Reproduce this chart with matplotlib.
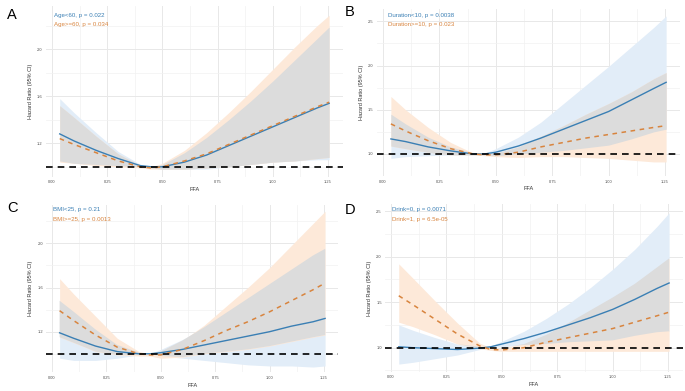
import matplotlib
matplotlib.use("Agg")
import matplotlib.pyplot as plt
import numpy as np

plt.rcParams["font.family"] = ["Liberation Sans", "DejaVu Sans"]

W, H = 685, 391

# FFA grid used for all curves
ffa = [0.035, 0.1, 0.2, 0.3, 0.4, 0.45, 0.5, 0.6, 0.7, 0.8, 0.9, 1.0, 1.1, 1.2, 1.255]

# ---- A : age
age_lo_est = [1.28, 1.22, 1.14, 1.07, 1.01, 1.0, 1.0, 1.04, 1.10, 1.18, 1.26, 1.34, 1.42, 1.50, 1.54]
age_lo_upp = [1.58, 1.46, 1.29, 1.13, 1.02, 1.0, 1.02, 1.12, 1.25, 1.40, 1.56, 1.73, 1.91, 2.09, 2.19]
age_lo_low = [1.05, 1.03, 1.02, 1.01, 1.0, 0.99, 0.98, 0.98, 0.98, 1.0, 1.02, 1.04, 1.05, 1.06, 1.06]
age_hi_est = [1.24, 1.19, 1.12, 1.05, 1.0, 0.99, 1.0, 1.05, 1.11, 1.19, 1.27, 1.35, 1.43, 1.51, 1.55]
age_hi_upp = [1.52, 1.42, 1.26, 1.11, 1.01, 1.0, 1.03, 1.14, 1.29, 1.46, 1.64, 1.83, 2.02, 2.20, 2.29]
age_hi_low = [1.04, 1.03, 1.01, 1.0, 0.99, 0.98, 0.98, 0.98, 0.99, 1.0, 1.02, 1.04, 1.05, 1.07, 1.08]

# ---- B : diabetes duration
dur_lo_est = [1.17, 1.14, 1.08, 1.035, 1.0, 1.0, 1.02, 1.09, 1.18, 1.28, 1.38, 1.48, 1.61, 1.74, 1.81]
dur_lo_upp = [1.45, 1.34, 1.19, 1.08, 1.01, 1.01, 1.06, 1.19, 1.36, 1.57, 1.78, 1.99, 2.21, 2.43, 2.56]
dur_lo_low = [0.95, 0.97, 0.98, 0.99, 0.99, 0.99, 0.98, 1.0, 1.02, 1.04, 1.07, 1.10, 1.17, 1.25, 1.28]
dur_hi_est = [1.34, 1.26, 1.15, 1.06, 1.0, 0.99, 0.99, 1.02, 1.08, 1.13, 1.18, 1.22, 1.26, 1.30, 1.32]
dur_hi_upp = [1.65, 1.50, 1.30, 1.13, 1.01, 1.0, 1.01, 1.08, 1.20, 1.32, 1.45, 1.57, 1.70, 1.85, 1.92]
dur_hi_low = [1.09, 1.06, 1.02, 0.99, 0.99, 0.98, 0.97, 0.96, 0.97, 0.97, 0.96, 0.95, 0.93, 0.91, 0.91]

# ---- C : BMI
bmi_lo_est = [1.19, 1.14, 1.07, 1.02, 1.0, 1.0, 1.01, 1.04, 1.08, 1.12, 1.16, 1.20, 1.25, 1.29, 1.32]
bmi_lo_upp = [1.48, 1.38, 1.22, 1.08, 1.01, 1.0, 1.04, 1.13, 1.24, 1.37, 1.50, 1.63, 1.76, 1.89, 1.95]
bmi_lo_low = [0.96, 0.94, 0.94, 0.96, 0.99, 1.0, 0.98, 0.96, 0.94, 0.92, 0.90, 0.89, 0.89, 0.88, 0.89]
bmi_hi_est = [1.39, 1.30, 1.17, 1.06, 1.0, 0.99, 0.99, 1.04, 1.12, 1.21, 1.29, 1.38, 1.48, 1.58, 1.64]
bmi_hi_upp = [1.68, 1.54, 1.34, 1.14, 1.02, 1.0, 1.02, 1.12, 1.26, 1.43, 1.60, 1.78, 1.98, 2.18, 2.29]
bmi_hi_low = [1.15, 1.10, 1.02, 0.99, 0.98, 0.98, 0.96, 0.97, 1.0, 1.02, 1.04, 1.07, 1.11, 1.15, 1.17]

# ---- D : drinking
dr0_est = [1.01, 1.0, 0.99, 0.98, 0.995, 1.01, 1.04, 1.10, 1.17, 1.25, 1.33, 1.42, 1.53, 1.65, 1.71]
dr0_upp = [1.25, 1.19, 1.11, 1.04, 1.01, 1.02, 1.07, 1.18, 1.32, 1.48, 1.66, 1.86, 2.08, 2.33, 2.48]
dr0_low = [0.82, 0.84, 0.88, 0.92, 0.98, 1.0, 1.01, 1.03, 1.04, 1.06, 1.07, 1.08, 1.13, 1.17, 1.18]
dr1_est = [1.57, 1.47, 1.31, 1.15, 1.02, 0.98, 0.975, 1.0, 1.06, 1.11, 1.16, 1.21, 1.28, 1.35, 1.39]
dr1_upp = [1.92, 1.76, 1.51, 1.27, 1.05, 1.0, 1.0, 1.04, 1.14, 1.27, 1.41, 1.55, 1.70, 1.88, 1.98]
dr1_low = [1.28, 1.23, 1.14, 1.04, 0.99, 0.97, 0.96, 0.96, 0.96, 0.96, 0.96, 0.96, 0.96, 0.96, 0.96]

panels = [
    dict(tag="A", groups=("Age<60, p = 0.022", "Age>=60, p = 0.034"),
         b=(age_lo_est, age_lo_low, age_lo_upp), o=(age_hi_est, age_hi_low, age_hi_upp),
         yticks=[1.2, 1.6, 2.0], ylim=(0.914, 2.366),
         px=(52, 328, 166.8, 1.0, 49.3, 2.0), letter=(7, 15), txt=(54, 15)),
    dict(tag="B", groups=("Duration<10, p = 0.0038", "Duration>=10, p = 0.023"),
         b=(dur_lo_est, dur_lo_low, dur_lo_upp), o=(dur_hi_est, dur_hi_low, dur_hi_upp),
         yticks=[1.0, 1.5, 2.0, 2.5], ylim=(0.817, 2.633),
         px=(383, 665, 159.3, 1.0, 21.7, 2.5), letter=(345, 12), txt=(388, 15)),
    dict(tag="C", groups=("BMI<25, p = 0.21", "BMI>=25, p = 0.0013"),
         b=(bmi_lo_est, bmi_lo_low, bmi_lo_upp), o=(bmi_hi_est, bmi_hi_low, bmi_hi_upp),
         yticks=[1.2, 1.6, 2.0], ylim=(0.831, 2.349),
         px=(52, 324, 353.8, 1.0, 243.3, 2.0), letter=(7, 208), txt=(53, 210)),
    dict(tag="D", groups=("Drink=0, p = 0.0071", "Drink=1, p = 6.5e-05"),
         b=(dr0_est, dr0_low, dr0_upp), o=(dr1_est, dr1_low, dr1_upp),
         yticks=[1.0, 1.5, 2.0, 2.5], ylim=(0.737, 2.573),
         px=(391, 668, 347.7, 1.0, 211, 2.5), letter=(345, 210), txt=(392, 210)),
]

BLUE = "#3a7fb4"
ORANGE = "#d8843e"
BLUE_F = "#e2edf8"
ORANGE_F = "#fde9d9"
GRAY_F = "#dcdcdc"
XLIM = (-0.026, 1.316)

fig = plt.figure(figsize=(W / 100, H / 100), dpi=100)

for p in panels:
    ax = fig.add_axes([0, 0, 1, 1])
    x0, x125, ya, va, yb, vb = p["px"]
    sx = (x125 - x0) / 1.25
    left = x0 + XLIM[0] * sx
    right = x0 + XLIM[1] * sx
    sy = (ya - yb) / (vb - va)
    top = ya - (p["ylim"][1] - va) * sy
    bottom = ya + (va - p["ylim"][0]) * sy
    ax.set_position([left / W, 1 - bottom / H, (right - left) / W, (bottom - top) / H])

    x = np.array(ffa)
    be, bl, bu = (np.array(a) for a in p["b"])
    oe, ol, ou = (np.array(a) for a in p["o"])

    ax.fill_between(x, bl, bu, color=BLUE_F, lw=0, zorder=1)
    ax.fill_between(x, ol, ou, color=ORANGE_F, lw=0, zorder=1)
    lo = np.maximum(bl, ol)
    hi = np.minimum(bu, ou)
    ax.fill_between(x, lo, hi, where=hi > lo, interpolate=True, color=GRAY_F, lw=0, zorder=2)

    ax.plot(x, be, color=BLUE, lw=1.0, zorder=4)
    ax.plot(x, oe, color=ORANGE, lw=1.1, ls=(0, (3, 3)), zorder=4)
    ax.axhline(1.0, color="black", lw=1.2, ls=(0, (4, 3)), zorder=5)

    ax.set_xlim(*XLIM)
    ax.set_ylim(*p["ylim"])
    ax.set_xticks([0, 0.25, 0.5, 0.75, 1.0, 1.25])
    ax.set_xticklabels(["0.00", "0.25", "0.50", "0.75", "1.00", "1.25"])
    ax.set_xticks(np.arange(0.125, 1.3, 0.25), minor=True)
    yt = p["yticks"]
    step = yt[1] - yt[0]
    ax.set_yticks(yt)
    ax.set_yticklabels([f"{v:.1f}" for v in yt])
    ax.set_yticks(np.arange(yt[0] - step / 2, p["ylim"][1], step), minor=True)
    ax.grid(which="major", color="#e8e8e8", lw=0.7, zorder=0)
    ax.grid(which="minor", color="#f1f1f1", lw=0.5, zorder=0)
    ax.set_axisbelow(True)
    for s in ax.spines.values():
        s.set_visible(False)
    ax.tick_params(which="both", length=0, labelsize=2.9, labelcolor="#4d4d4d", pad=2.5)
    ax.set_xlabel("FFA", fontsize=4, color="#333333", labelpad=2)
    ax.set_ylabel("Hazard Ratio (95% CI)", fontsize=4, color="#333333", labelpad=3)

    tx, ty = p["txt"]
    fig.text(tx / W, 1 - ty / H, p["groups"][0], color=BLUE, fontsize=4.4, va="center")
    fig.text(tx / W, 1 - (ty + 9.5) / H, p["groups"][1], color=ORANGE, fontsize=4.4, va="center")
    lx, ly = p["letter"]
    fig.text(lx / W, 1 - ly / H, p["tag"], fontsize=10.5, va="center", color="black")

fig.savefig("out.png", dpi=100, facecolor="white")
